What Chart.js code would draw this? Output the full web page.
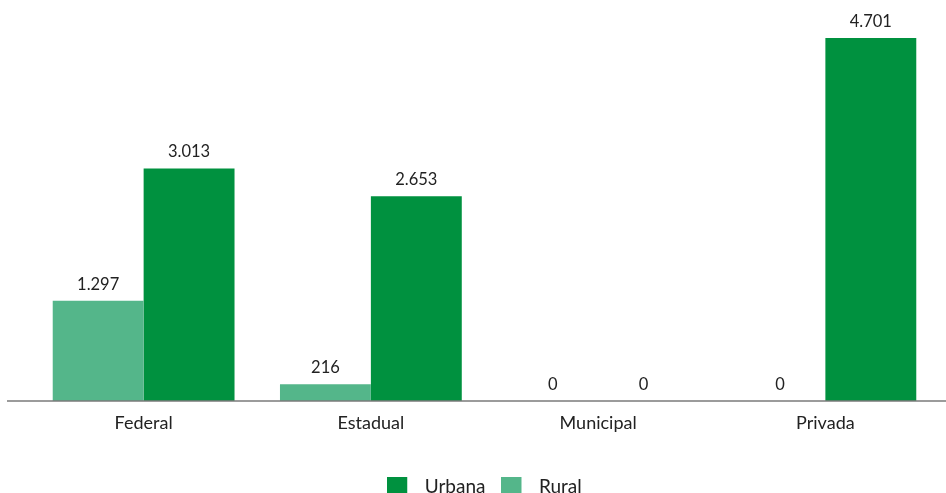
<!DOCTYPE html>
<html>
<head>
<meta charset="utf-8">
<script src="https://cdn.jsdelivr.net/npm/chart.js@4/dist/chart.umd.min.js"></script>
<style>
  html, body { margin: 0; padding: 0; background: #fff; }
  #wrap { width: 946px; height: 493px; position: relative; }
</style>
</head>
<body>
<div id="wrap"><canvas id="chart"></canvas></div>
<script>
const categories = ['Federal', 'Estadual', 'Municipal', 'Privada'];
const ruralValues = [1297, 216, 0, 0];
const urbanaValues = [3013, 2653, 0, 4701];

const fmt = v => v.toLocaleString('pt-BR');
const FONT = 'Lato, "Noto Sans", sans-serif';

// legend square with some room to its right before the text
function legendSwatch(color) {
    const c = document.createElement('canvas');
    c.width = 28;
    c.height = 20;
    const g = c.getContext('2d');
    g.fillStyle = color;
    g.fillRect(0, 0, 20, 20);
    return c;
}

// baseline across the full width, plus value labels over each bar
const extras = {
    id: 'extras',
    afterDatasetsDraw(chart) {
        const ctx = chart.ctx;
        const y0 = chart.scales.y.getPixelForValue(0);
        ctx.save();
        ctx.strokeStyle = '#7a7a7a';
        ctx.lineWidth = 1.5;
        ctx.beginPath();
        ctx.moveTo(7, y0);
        ctx.lineTo(chart.width, y0);
        ctx.stroke();

        ctx.fillStyle = '#222';
        ctx.font = '16.5px ' + FONT;
        ctx.textAlign = 'center';
        ctx.textBaseline = 'bottom';
        chart.data.datasets.forEach((ds, i) => {
            chart.getDatasetMeta(i).data.forEach((bar, j) => {
                ctx.fillText(fmt(ds.data[j]), bar.x, bar.y - 8);
            });
        });
        ctx.restore();
    }
};

new Chart(document.getElementById('chart'), {
    type: 'bar',
    data: {
        labels: categories,
        datasets: [
            {
                label: 'Rural',
                data: ruralValues,
                backgroundColor: '#54b68a',
                categoryPercentage: 0.8,
                barPercentage: 1.0,
            },
            {
                label: 'Urbana',
                data: urbanaValues,
                backgroundColor: '#00913f',
                categoryPercentage: 0.8,
                barPercentage: 1.0,
            },
        ],
    },
    options: {
        responsive: true,
        maintainAspectRatio: false,
        animation: false,
        layout: { padding: { left: 30, right: 7, top: 15, bottom: -13 } },
        plugins: {
            legend: {
                position: 'bottom',
                reverse: true,
                labels: {
                    usePointStyle: true,
                    pointStyleWidth: 28,
                    boxHeight: 20,
                    padding: 16,
                    color: '#222',
                    font: { family: FONT, size: 19 },
                    generateLabels(chart) {
                        const items = Chart.defaults.plugins.legend.labels.generateLabels(chart);
                        items.forEach(it => {
                            it.pointStyle = legendSwatch(chart.data.datasets[it.datasetIndex].backgroundColor);
                        });
                        return items;
                    },
                },
            },
            tooltip: { enabled: false },
        },
        scales: {
            x: {
                grid: { display: false, drawTicks: false },
                border: { display: false },
                afterFit(scale) { scale.height = 60; },
                ticks: {
                    color: '#222',
                    padding: 11,
                    font: { family: FONT, size: 18 },
                },
            },
            y: {
                display: false,
                min: 0,
                max: 5000,
            },
        },
    },
    plugins: [extras],
});
</script>
</body>
</html>
